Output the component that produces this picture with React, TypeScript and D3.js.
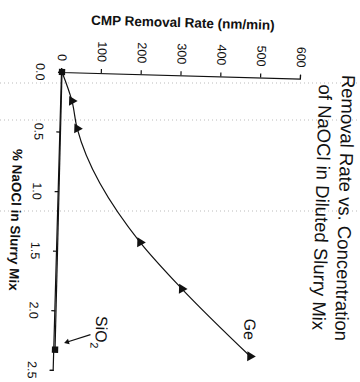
import { useEffect, useRef } from "react";
import * as d3 from "d3";

// % NaOCl in slurry (x) and removal rate in nm/min (y)
const geConc = [0, 0.24, 0.47, 1.41, 1.79, 2.34];
const geRate = [0, 27, 42, 208, 316, 492];
const sioConc = [0, 2.33];
const sioRate = [0, 2];

const xTicks = [0, 0.5, 1.0, 1.5, 2.0, 2.5];
const yTicks = [0, 100, 200, 300, 400, 500, 600];

const titleLines = ["Removal Rate vs. Concentration", "of NaOCl in Diluted Slurry Mix"];
const xLabel = "% NaOCl in Slurry Mix";
const yLabel = "CMP Removal Rate (nm/min)";

const font = "'Liberation Sans', Arial, sans-serif";

export default function App() {
    const ref = useRef<SVGSVGElement | null>(null);

    useEffect(() => {
        const width = 360;
        const height = 382;
        // the page was scanned sideways: the whole chart is turned a bit more than 90deg
        const plotW = 298;
        const plotH = 239;
        const origin = [62, 72];
        const tilt = 91.6;

        const svg = d3.select(ref.current);
        svg.selectAll("*").remove();
        svg.attr("width", width).attr("height", height);

        svg.append("rect").attr("width", width).attr("height", height).attr("fill", "#fff");

        // faint dotted lines left by the scanner
        svg.append("g")
            .selectAll("line")
            .data([83, 120, 211])
            .join("line")
            .attr("x1", 0)
            .attr("x2", width)
            .attr("y1", d => d)
            .attr("y2", d => d)
            .attr("stroke", "#aaa")
            .attr("stroke-width", 0.8)
            .attr("stroke-dasharray", "1 3");

        const g = svg.append("g")
            .attr("transform", `translate(${origin[0]},${origin[1]}) rotate(${tilt}) translate(0,${-plotH})`);

        const x = d3.scaleLinear().domain([0, 2.5]).range([0, plotW]);
        const y = d3.scaleLinear().domain([0, 600]).range([plotH, 0]);

        const xAxis = g.append("g")
            .attr("transform", `translate(0,${plotH})`)
            .call(d3.axisBottom(x).tickValues(xTicks).tickFormat(d3.format(".1f")).tickSize(4).tickSizeOuter(4).tickPadding(13));
        const yAxis = g.append("g")
            .call(d3.axisLeft(y).tickValues(yTicks).tickSize(4).tickSizeOuter(4).tickPadding(7));

        [xAxis, yAxis].forEach(a => {
            a.selectAll("text").attr("font-family", font).attr("font-size", 12.5).attr("fill", "#111");
            a.selectAll("line,path").attr("stroke", "#111").attr("stroke-width", 1.2);
        });

        const ge = geConc.map((c, i) => [c, geRate[i]]);
        const sio = sioConc.map((c, i) => [c, sioRate[i]]);

        const line = d3.line<number[]>()
            .x(d => x(d[0]))
            .y(d => y(d[1]))
            .curve(d3.curveMonotoneX);

        g.append("path").datum(sio).attr("d", line).attr("fill", "none").attr("stroke", "#111").attr("stroke-width", 1.2);
        g.append("path").datum(ge).attr("d", line).attr("fill", "none").attr("stroke", "#111").attr("stroke-width", 1.2);

        g.append("g")
            .selectAll("path")
            .data(ge.slice(1))
            .join("path")
            .attr("transform", d => `translate(${x(d[0])},${y(d[1])})`)
            .attr("d", d3.symbol(d3.symbolTriangle, 42)())
            .attr("fill", "#111");

        g.append("g")
            .selectAll("path")
            .data(sio)
            .join("path")
            .attr("transform", d => `translate(${x(d[0])},${y(d[1])})`)
            .attr("d", d3.symbol(d3.symbolSquare, 40)())
            .attr("fill", "#111");

        // y axis title (comes out horizontal after the turn)
        g.append("text")
            .attr("transform", `translate(-53,${plotH / 2}) rotate(-90)`)
            .attr("y", "0.36em")
            .attr("text-anchor", "middle")
            .attr("font-family", font)
            .attr("font-weight", "bold")
            .attr("font-size", 13.5)
            .attr("fill", "#111")
            .text(yLabel);

        g.append("text")
            .attr("x", plotW / 2)
            .attr("y", plotH + 42)
            .attr("dy", "0.36em")
            .attr("text-anchor", "middle")
            .attr("font-family", font)
            .attr("font-weight", "bold")
            .attr("font-size", 13.5)
            .attr("fill", "#111")
            .text(xLabel);

        g.append("g")
            .selectAll("text")
            .data(titleLines)
            .join("text")
            .attr("x", 128)
            .attr("y", (d, i) => -48 + i * 23)
            .attr("dy", "0.36em")
            .attr("text-anchor", "middle")
            .attr("font-family", font)
            .attr("font-size", 18.5)
            .attr("fill", "#111")
            .text(d => d);

        // series labels
        const geLast = ge[ge.length - 1];
        g.append("text")
            .attr("x", x(geLast[0]) - 27)
            .attr("y", y(geLast[1]) + 1)
            .attr("dy", "0.36em")
            .attr("text-anchor", "middle")
            .attr("font-family", font)
            .attr("font-size", 16)
            .attr("fill", "#111")
            .text("Ge");

        const sioLast = sio[sio.length - 1];
        const sx = x(sioLast[0]);
        const sy = y(sioLast[1]);
        const sioText = g.append("text")
            .attr("x", sx - 35)
            .attr("y", sy - 46)
            .attr("dy", "0.36em")
            .attr("font-family", font)
            .attr("font-size", 16)
            .attr("fill", "#111");
        sioText.append("tspan").text("SiO");
        sioText.append("tspan").attr("font-size", 11).attr("dy", 5).text("2");

        g.append("line")
            .attr("x1", sx - 16)
            .attr("y1", sy - 35)
            .attr("x2", sx - 8)
            .attr("y2", sy - 12)
            .attr("stroke", "#111")
            .attr("stroke-width", 1.2);
        g.append("path")
            .attr("transform", `translate(${sx - 8},${sy - 12}) rotate(${(Math.atan2(23, 8) * 180) / Math.PI + 90})`)
            .attr("d", d3.symbol(d3.symbolTriangle, 14)())
            .attr("fill", "#111");
    }, []);

    return <svg ref={ref} style={{ position: "absolute", left: 0, top: 0 }} />;
}
